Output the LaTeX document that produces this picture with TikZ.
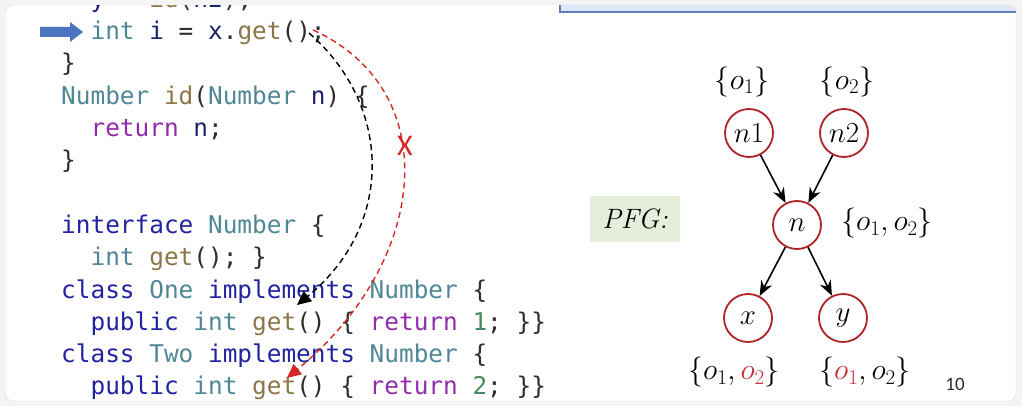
\RequirePackage{fix-cm}
\documentclass[tikz,border=0pt]{standalone}
\usepackage{fontspec}
\setmonofont{DejaVu Sans Mono}
\newfontfamily\slidefont{Carlito}
\usepackage{tikz}
\usetikzlibrary{positioning,arrows.meta}
\usepackage{xcolor}
\definecolor{kwblue}{RGB}{35,35,160}
\definecolor{typeteal}{RGB}{80,135,150}
\definecolor{methbrown}{RGB}{140,118,72}
\definecolor{varnavy}{RGB}{30,35,110}
\definecolor{retpurple}{RGB}{145,45,170}
\definecolor{numgreen}{RGB}{70,140,90}
\definecolor{punct}{RGB}{45,45,45}
\definecolor{nodered}{RGB}{175,35,40}
\definecolor{labred}{RGB}{195,45,55}
\definecolor{cutred}{RGB}{215,40,40}
\definecolor{pfggreen}{RGB}{228,238,218}
\definecolor{ptrblue}{RGB}{75,115,190}
\definecolor{barblue}{RGB}{95,125,190}
\definecolor{barfill}{RGB}{222,232,248}
\newcommand{\codefont}{\fontsize{24.4}{29}\selectfont\ttfamily}
\newcommand{\pfgfont}{\fontsize{30}{34}\selectfont}
\newcommand{\ckw}[1]{\textcolor{kwblue}{#1}}
\newcommand{\cty}[1]{\textcolor{typeteal}{#1}}
\newcommand{\cfn}[1]{\textcolor{methbrown}{#1}}
\newcommand{\cvar}[1]{\textcolor{varnavy}{#1}}
\newcommand{\cret}[1]{\textcolor{retpurple}{#1}}
\newcommand{\cnum}[1]{\textcolor{numgreen}{#1}}

\begin{document}
\begin{tikzpicture}[
  x=1pt,y=-1pt,
  code/.style={anchor=base west,inner sep=0pt,text=punct,font=\codefont},
  var/.style={circle,draw=nodered,line width=1.8pt,minimum size=48pt,inner sep=0pt,font=\fontsize{29}{32}\selectfont},
  pts/.style={inner sep=0pt,font=\pfgfont},
  flow/.style={-{Stealth[length=15pt,width=12pt]},line width=1.6pt},
  call/.style={dash pattern=on 6pt off 4pt,line width=1.4pt}
]

\useasboundingbox (0,0) rectangle (1022,406);
\fill[gray!9] (0,0) rectangle (1022,406);
\draw[gray!30,fill=white,rounded corners=8pt] (5,5) rectangle (1016,401);

\begin{scope}
\clip[rounded corners=8pt] (5,5) rectangle (1016,401);
\draw[barblue,fill=barfill,line width=2.5pt] (560,-10) rectangle (1030,12);
\node[code] (l0) at (90.4,8) {\cvar{y} = \cfn{id}(\cvar{n2});};
\end{scope}

\fill[ptrblue] (40,27) -- (70,27) -- (70,22) -- (83,32) -- (70,42) -- (70,37) -- (40,37) -- cycle;

\node[code] (l1) at (90.4,40) {\cty{int} \cvar{i} = \cvar{x}.\cfn{get}();};
\node[code] (l2) at (61,72) {\}};
\node[code] (l3) at (61,104.5) {\cty{Number} \cfn{id}(\cty{Number} \cvar{n}) \{};
\node[code] (l4) at (90.4,137) {\cret{return} \cvar{n};};
\node[code] (l5) at (61,169) {\}};
\node[code] (l7) at (61,233.5) {\ckw{interface} \cty{Number} \{};
\node[code] (l8) at (90.4,265.5) {\cty{int} \cfn{get}(); \}};
\node[code] (l9) at (61,298) {\ckw{class} \cty{One} \ckw{implements} \cty{Number} \{};
\node[code] (l10) at (90.4,330) {\ckw{public} \cty{int} \cfn{get}() \{ \cret{return} \cnum{1}; \}\}};
\node[code] (l11) at (61,362) {\ckw{class} \cty{Two} \ckw{implements} \cty{Number} \{};
\node[code] (l12) at (90.4,394.5) {\ckw{public} \cty{int} \cfn{get}() \{ \cret{return} \cnum{2}; \}\}};

\coordinate (callsite) at (309,33);
\coordinate (redsite) at (313,30);
\coordinate (getone) at (297,305);
\coordinate (gettwo) at (287,378);
\draw[call,black,-{Triangle[length=14pt,width=13pt]}] (callsite) .. controls (392,105) and (395,225) .. (getone);
\draw[call,cutred,-{Triangle[length=14pt,width=13pt]}] (redsite) .. controls (445,90) and (430,260) .. (gettwo);
\node[text=cutred,inner sep=0pt,font=\fontsize{30}{32}\selectfont\slidefont] (cut) at (405,146) {X};

\node[fill=pfggreen,minimum width=90pt,minimum height=46pt,font=\fontsize{28}{32}\selectfont\itshape] (pfg) at (635,219) {PFG:};

\node[var] (n1) at (749,133) {$n1$};
\node[var] (n2) at (844,133) {$n2$};
\node[var] (n) at (797,225) {$n$};
\node[var] (x) at (748,318) {$x$};
\node[var] (y) at (843,318) {$y$};

\draw[flow] (n1) -- (n);
\draw[flow] (n2) -- (n);
\draw[flow] (n) -- (x);
\draw[flow] (n) -- (y);

\node[pts] (ptsn1) at (742,82) {$\{o_1\}$};
\node[pts] (ptsn2) at (847,82) {$\{o_2\}$};
\node[pts] (ptsn) at (887,223) {$\{o_1, o_2\}$};
\node[pts] (ptsx) at (734,372) {$\{o_1, \textcolor{labred}{o_2}\}$};
\node[pts] (ptsy) at (865,372) {$\{\textcolor{labred}{o_1}, o_2\}$};

\node[text=punct,inner sep=0pt,font=\fontsize{19}{22}\selectfont\slidefont] (page) at (955,384) {10};

\end{tikzpicture}
\end{document}
